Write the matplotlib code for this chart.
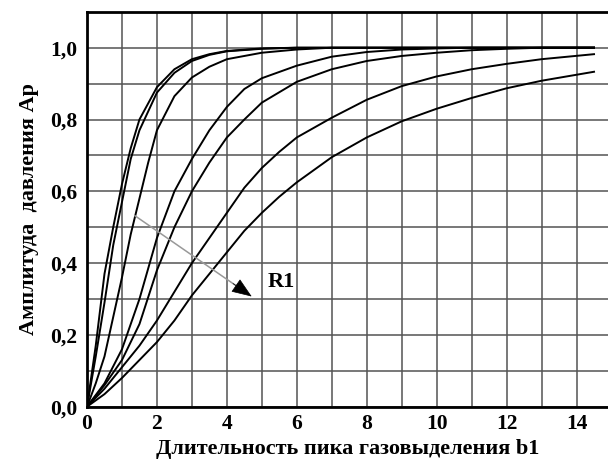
import matplotlib.pyplot as plt
from matplotlib.ticker import MultipleLocator, FuncFormatter

# curves (b1, Ap), fastest to slowest along R1
x_a = [0, 0.25, 0.5, 0.75, 1, 1.25, 1.5, 2, 2.5, 3, 3.5, 4, 5, 6, 8, 10, 12, 14.5]
y_a = [0, 0.17, 0.37, 0.5, 0.62, 0.72, 0.8, 0.89, 0.94, 0.968, 0.982, 0.991, 0.998, 1.0, 1.0, 1.0, 1.0, 1.0]

x_b = [0, 0.25, 0.5, 0.75, 1, 1.25, 1.5, 2, 2.5, 3, 3.5, 4, 5, 6, 8, 10, 12, 14.5]
y_b = [0, 0.14, 0.29, 0.45, 0.57, 0.69, 0.77, 0.875, 0.93, 0.963, 0.98, 0.99, 0.997, 1.0, 1.0, 1.0, 1.0, 1.0]

x_c = [0, 0.25, 0.5, 0.75, 1, 1.25, 1.5, 1.75, 2, 2.5, 3, 3.5, 4, 5, 6, 7, 10, 14.5]
y_c = [0, 0.065, 0.14, 0.25, 0.36, 0.48, 0.58, 0.68, 0.77, 0.865, 0.917, 0.947, 0.968, 0.986, 0.995, 1.0, 1.0, 1.0]

x_d = [0, 0.5, 1, 1.5, 2, 2.5, 3, 3.5, 4, 4.5, 5, 6, 7, 8, 9, 10, 11, 14.5]
y_d = [0, 0.065, 0.16, 0.3, 0.47, 0.6, 0.69, 0.77, 0.835, 0.885, 0.915, 0.95, 0.975, 0.988, 0.995, 0.998, 1.0, 1.0]

x_e = [0, 0.5, 1, 1.5, 2, 2.5, 3, 3.5, 4, 4.5, 5, 6, 7, 8, 9, 10, 11, 12, 13, 14.5]
y_e = [0, 0.06, 0.13, 0.23, 0.38, 0.5, 0.6, 0.68, 0.75, 0.8, 0.847, 0.905, 0.94, 0.963, 0.977, 0.986, 0.993, 0.997, 1.0, 1.0]

x_f = [0, 0.5, 1, 1.5, 2, 2.5, 3, 3.5, 4, 4.5, 5, 5.5, 6, 7, 8, 9, 10, 11, 12, 13, 14.5]
y_f = [0, 0.05, 0.11, 0.17, 0.24, 0.32, 0.4, 0.47, 0.54, 0.61, 0.665, 0.71, 0.75, 0.805, 0.855, 0.893, 0.92, 0.94, 0.955, 0.968, 0.982]

x_g = [0, 0.5, 1, 1.5, 2, 2.5, 3, 3.5, 4, 4.5, 5, 5.5, 6, 7, 8, 9, 10, 11, 12, 13, 14.5]
y_g = [0, 0.035, 0.08, 0.13, 0.18, 0.24, 0.31, 0.37, 0.43, 0.49, 0.54, 0.585, 0.625, 0.695, 0.75, 0.795, 0.83, 0.86, 0.887, 0.908, 0.933]

curves = [(x_a, y_a), (x_b, y_b), (x_c, y_c), (x_d, y_d), (x_e, y_e), (x_f, y_f), (x_g, y_g)]

arrow_start = (1.37, 0.532)
arrow_tip = (4.71, 0.307)

plt.rcParams['font.family'] = ['Liberation Serif', 'DejaVu Serif']
plt.rcParams['font.weight'] = 'bold'

fig = plt.figure(figsize=(6.08, 4.65), dpi=100)
ax = fig.add_axes([0.1431, 0.1254, 0.8569, 0.8492])

for xs, ys in curves:
    ax.plot(xs, ys, color='black', lw=1.4, zorder=3)

# R1 arrow: grey shaft, black head
dx = arrow_tip[0] - arrow_start[0]
dy = arrow_tip[1] - arrow_start[1]
ax.plot([arrow_start[0], arrow_start[0] + 0.9 * dx], [arrow_start[1], arrow_start[1] + 0.9 * dy],
        color='0.6', lw=1.1, zorder=4)
ax.annotate('', xy=arrow_tip, xytext=(arrow_start[0] + 0.84 * dx, arrow_start[1] + 0.84 * dy),
            arrowprops=dict(arrowstyle='-|>,head_length=1.3,head_width=0.5', color='black',
                            lw=0.5, shrinkA=0, shrinkB=0), zorder=5)
ax.text(5.17, 0.346, 'R1', fontsize=16, fontweight='bold', va='center', ha='left')

ax.set_xlim(0, 14.9)
ax.set_ylim(0, 1.1)
ax.xaxis.set_major_locator(MultipleLocator(2))
ax.xaxis.set_minor_locator(MultipleLocator(1))
ax.yaxis.set_major_locator(MultipleLocator(0.2))
ax.yaxis.set_minor_locator(MultipleLocator(0.1))
ax.yaxis.set_major_formatter(FuncFormatter(lambda v, p: f'{v:.1f}'.replace('.', ',')))
ax.grid(which='both', color='0.33', lw=1.1)
ax.set_axisbelow(True)
ax.tick_params(which='both', length=0)
ax.tick_params(axis='y', pad=7, labelsize=15.5)
ax.tick_params(axis='x', pad=5, labelsize=15.5)

for side in ['left', 'bottom', 'top']:
    ax.spines[side].set_linewidth(2)
ax.spines['right'].set_visible(False)

ax.set_xlabel('Длительность пика газовыделения b1', fontsize=16, fontweight='bold', labelpad=4)
ax.set_ylabel('Амплитуда  давления Ар', fontsize=16, fontweight='bold', labelpad=8)

fig.savefig('out.png', dpi=100)
